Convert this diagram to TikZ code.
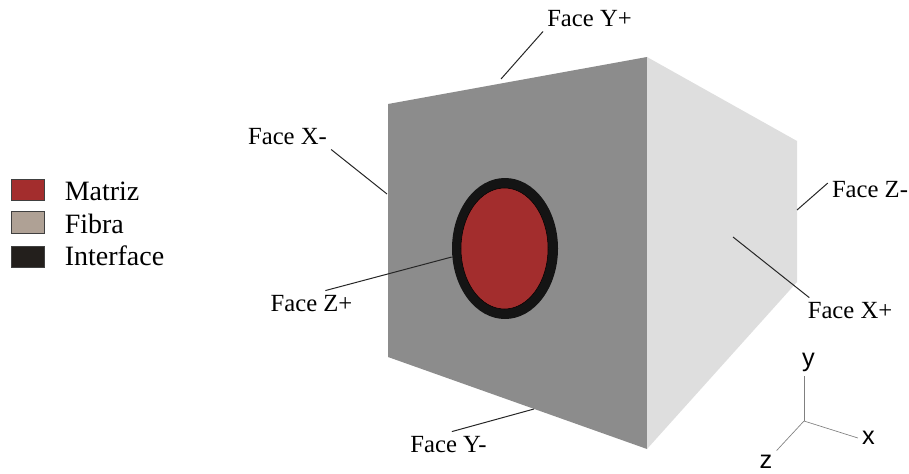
\documentclass[tikz,border=0pt]{standalone}
\usepackage{xcolor}
\usepackage{fontspec}
\setmainfont{Liberation Serif}
\setsansfont{Liberation Sans}
\usetikzlibrary{shapes.geometric}
\definecolor{matrizred}{HTML}{A32D2D}
\definecolor{fibragray}{HTML}{AFA195}
\definecolor{interfaceblack}{HTML}{231F1C}
\definecolor{frontgray}{HTML}{8C8C8C}
\definecolor{sidegray}{HTML}{DEDEDE}
\definecolor{ringblack}{HTML}{141414}

\begin{document}
\begin{tikzpicture}[
    x=0.75pt, y=-0.75pt,
    swatch/.style={rectangle, draw=black!75, line width=0.6pt, minimum width=25pt, minimum height=16pt, inner sep=0pt},
    legend/.style={anchor=base west, inner sep=0pt, font=\fontsize{21}{25}\selectfont},
    facelabel/.style={anchor=base, inner sep=3pt, font=\fontsize{18.5}{22}\selectfont},
    axislabel/.style={inner sep=3pt, font=\sffamily\fontsize{19}{23}\selectfont},
    leader/.style={line width=0.75pt, draw=black!85},
    axisline/.style={line width=0.5pt, draw=black!50}
]
\useasboundingbox (0,0) rectangle (909,474);
% cube
\fill[frontgray] (388,104) -- (647,57) -- (647,449) -- (388,357) -- cycle;
\fill[sidegray] (647,57) -- (797,141) -- (797,282) -- (647,449) -- cycle;
\node[ellipse, fill=ringblack, inner sep=0pt, minimum width=79.5pt, minimum height=105.75pt] (interface) at (505,248.5) {};
\node[ellipse, draw=black, line width=0.4pt, fill=matrizred, inner sep=0pt, minimum width=65.25pt, minimum height=90.75pt] (matriz) at (504.5,248.5) {};
% legend
\node[swatch, fill=matrizred] (swmatriz) at (28,190) {};
\node[swatch, fill=fibragray] (swfibra) at (28,222.5) {};
\node[swatch, fill=interfaceblack] (swinterface) at (28,257) {};
\node[legend] (lbmatriz) at (64.5,200) {Matriz};
\node[legend] (lbfibra) at (64.5,233) {Fibra};
\node[legend] (lbinterface) at (64.5,265) {Interface};
% face labels
\node[facelabel] (faceYp) at (589.5,27) {Face Y+};
\node[facelabel] (faceXm) at (287.5,145) {Face X-};
\node[facelabel] (faceZp) at (311.5,311) {Face Z+};
\node[facelabel] (faceZm) at (870,197) {Face Z-};
\node[facelabel] (faceXp) at (850,318) {Face X+};
\node[facelabel] (faceYm) at (448.5,452) {Face Y-};
\coordinate (tipYp) at (501,79);
\coordinate (tipXm) at (387,194);
\coordinate (tipZm) at (797,210);
\coordinate (tipXp) at (733,237);
\coordinate (tipYm) at (534,409);
\draw[leader] (faceYp.south west) -- (tipYp);
\draw[leader] (faceXm.south east) -- (tipXm);
\draw[leader] (faceZp.42) -- (interface.west |- 0,257);
\draw[leader] (faceZm.172) -- (tipZm);
\draw[leader] (faceXp.163) -- (tipXp);
\draw[leader] (faceYm.75) -- (tipYm);
% axes
\coordinate (origin) at (804,421);
\node[axislabel] (axisy) at (808.5,362) {y};
\node[axislabel] (axisx) at (868.5,438) {x};
\node[axislabel] (axisz) at (766,461.5) {z};
\draw[axisline] (origin) -- (axisy.south -| origin);
\draw[axisline] (origin) -- (axisx.west);
\draw[axisline] (origin) -- (axisz.north east);
\end{tikzpicture}
\end{document}
